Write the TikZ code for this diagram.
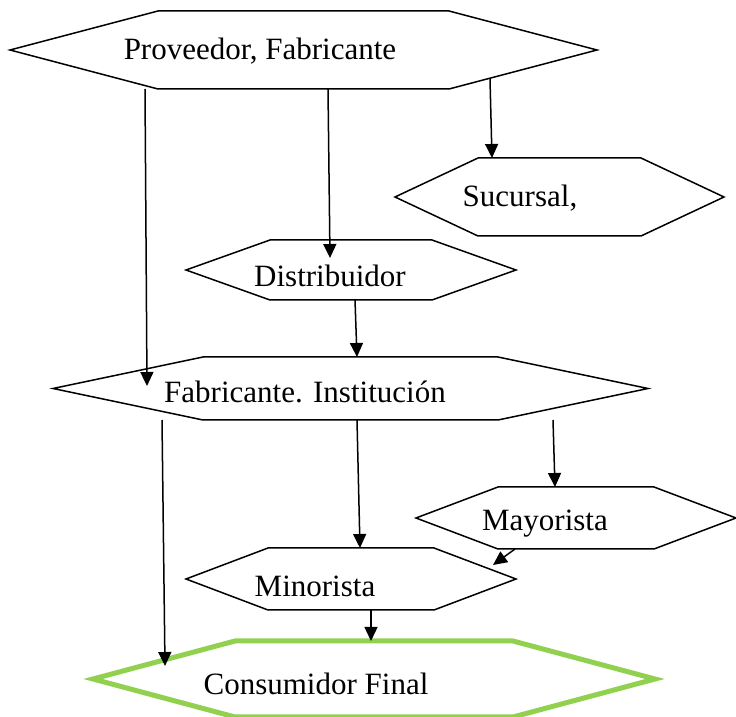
\documentclass[tikz,border=0pt]{standalone}
\usepackage{fontspec}
\setmainfont{Liberation Serif}
\usetikzlibrary{arrows.meta}

\tikzset{hexa/.style={inner sep=0pt,outer sep=0pt},
  txt/.style={inner sep=0pt,font=\fontsize{15.5}{18}\selectfont},
  arr/.style={-{Triangle[length=7pt,width=6.5pt]},line width=0.75pt}}

\begin{document}
\begin{tikzpicture}[x=0.5pt,y=-0.5pt,line width=0.75pt]
  \useasboundingbox (0,0) rectangle (736,717);
  % name/cx/cy/width/height/tip
  \foreach \n/\cx/\cy/\w/\h/\t in {prov/303.5/50/587/78/148, sucu/559.5/197/329/78/83,
      dist/351/270/330/60/84, fabi/350.5/388.5/595/63/150, mayo/576/518/320/62/82,
      mino/351/579/330/62/82}{
    \node[hexa,minimum width=\w*0.5pt,minimum height=\h*0.5pt] (\n) at (\cx,\cy) {};
    \draw (\n.west) -- ([xshift=\t*0.5pt]\n.north west) -- ([xshift=-\t*0.5pt]\n.north east)
      -- (\n.east) -- ([xshift=-\t*0.5pt]\n.south east) -- ([xshift=\t*0.5pt]\n.south west) -- cycle;
  }
  \node[hexa,minimum width=281pt,minimum height=38pt] (cons) at (374,679) {};
  \draw [line width=2.5pt,color={rgb,255:red,146;green,208;blue,80}] (cons.west) -- ([xshift=71pt]cons.north west)
    -- ([xshift=-71pt]cons.north east) -- (cons.east) -- ([xshift=-71pt]cons.south east)
    -- ([xshift=71pt]cons.south west) -- cycle;

  \node[txt] (prov-t) at (260,51) {Proveedor, Fabricante};
  \node[txt] (sucu-t) at (520,198) {Sucursal,};
  \node[txt] (dist-t) at (330,276) {Distribuidor};
  \node[txt] (fabi-t) at (305,392) {Fabricante. Institución};
  \node[txt] (mayo-t) at (545,524) {Mayorista};
  \node[txt] (mino-t) at (315,586) {Minorista};
  \node[txt] (cons-t) at (316,684) {Consumidor Final};

  \coordinate (e1) at (147,386);
  \coordinate (e2) at (330,258);
  \coordinate (s3) at (490,79);
  \coordinate (e5) at (165,666);
  \coordinate (s8) at (515,549);
  \coordinate (e8) at (493,565);

  \draw[arr] (prov.south -| 145,0) -- (e1);
  \draw[arr] (prov.south -| 328,0) -- (e2);
  \draw[arr] (s3) -- (sucu.north -| 492,0);
  \draw[arr] (dist.south -| 355,0) -- (fabi.north -| 357,0);
  \draw[arr] (fabi.south -| 162,0) -- (e5);
  \draw[arr] (fabi.south -| 357,0) -- (mino.north -| 360,0);
  \draw[arr] (fabi.south -| 553,0) -- (mayo.north -| 555,0);
  \draw[arr] (s8) -- (e8);
  \draw[arr] (mino.south -| 371,0) -- (cons.north -| 371,0);
\end{tikzpicture}
\end{document}
